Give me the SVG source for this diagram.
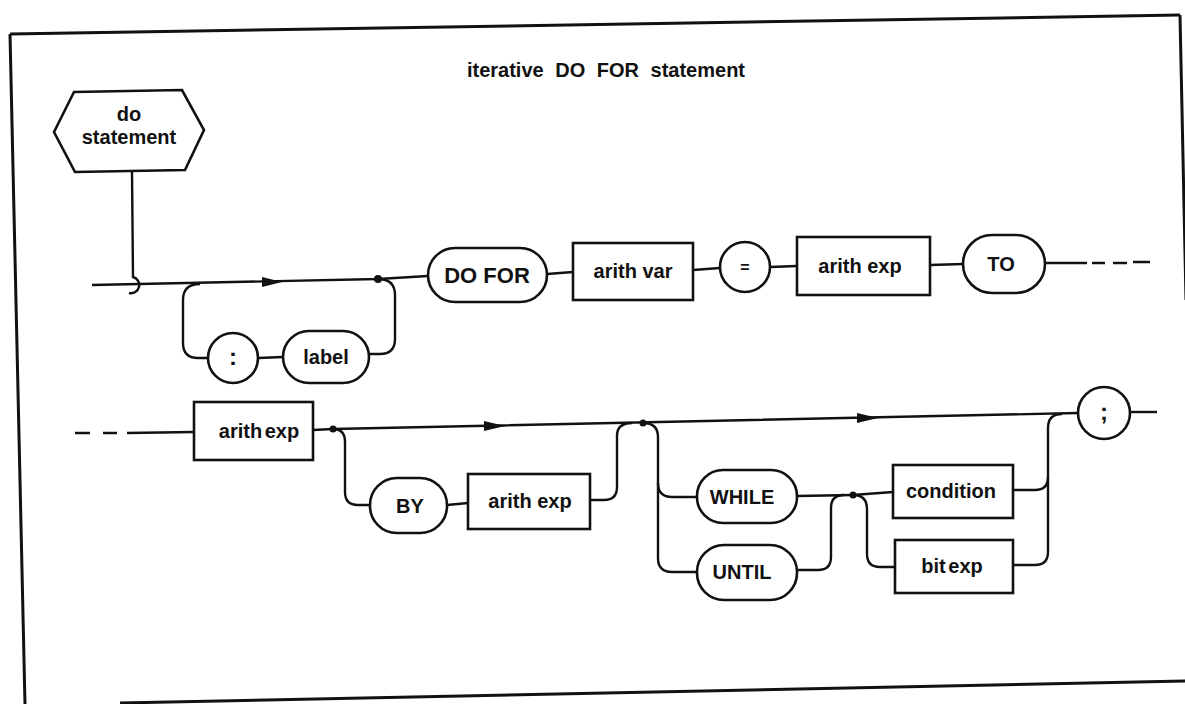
<svg xmlns="http://www.w3.org/2000/svg" width="1185" height="704" viewBox="0 0 1185 704">
<defs>
<style>
.bg{fill:#ffffff}
.frame{fill:none;stroke:#111;stroke-width:3}
.node{fill:#fff;stroke:#111;stroke-width:2.6}
.line{fill:none;stroke:#111;stroke-width:2.4}
.dash{fill:none;stroke:#111;stroke-width:2.4}
.dot{fill:#111}
.arrow{fill:#111}
text{font-family:"Liberation Sans",Arial,sans-serif;font-weight:bold;fill:#111;text-anchor:middle}
.lbl{font-size:20px}
.title{font-size:20px;word-spacing:6px}
</style>
</defs>
<rect class="bg" x="0" y="0" width="1185" height="704"/>
<g id="frame">
<path class="frame" d="M10,34 L1180,15"/>
<path class="frame" d="M10,34 L25,704"/>
<path class="frame" d="M1180,15 L1186,300"/>
<path class="frame" d="M120,703 L1185,681"/>
</g>
<text id="title" class="title" x="606" y="77">iterative DO FOR statement</text>
<g id="connectors">
<!-- row 1 -->
<path class="line" d="M132,172 L133,277 A8,8 0 0 1 129,293"/>
<path class="line" d="M92,285 L378,279 L428,276"/>
<polygon class="arrow" points="262,277 282,282 262,287"/>
<path class="line" d="M200,284 Q183,284 183,300 L183,343 Q183,358 198,358 L208,358"/>
<path class="line" d="M258,358 L283,357"/>
<path class="line" d="M369,354 L380,354 Q395,354 395,339 L395,295 Q395,279 378,279"/>
<path class="line" d="M547,274 L573,272"/>
<path class="line" d="M693,270 L720,268"/>
<path class="line" d="M770,267 L797,266"/>
<path class="line" d="M930,265 L963,264"/>
<path class="line" d="M1045,263 L1087,263"/>
<path class="dash" d="M1092,263 L1105,263 M1113,263 L1127,263 M1133,262 L1150,262"/>
<!-- row 2 -->
<path class="dash" d="M75,433 L90,433 M103,433 L117,433"/>
<path class="line" d="M127,433 L194,432"/>
<path class="line" d="M313,430 L333,429 L1078,413"/>
<polygon class="arrow" points="484,421 505,426 484,431"/>
<polygon class="arrow" points="857,413 878,418 857,423"/>
<path class="line" d="M333,429 Q345,429 345,442 L345,492 Q345,505 358,505 L370,505"/>
<path class="line" d="M447,505 L468,503"/>
<path class="line" d="M590,500 L604,500 Q617,500 617,487 L617,436 Q617,423 632,423"/>
<path class="line" d="M643,423 Q658,423 658,437 L658,558 Q658,572 672,572 L697,572"/>
<path class="line" d="M658,483 Q658,497 672,497 L697,497"/>
<path class="line" d="M797,496 L853,495"/>
<path class="line" d="M797,570 L818,570 Q831,570 831,557 L831,508 Q831,495 844,495"/>
<path class="line" d="M853,495 L893,492"/>
<path class="line" d="M853,495 Q867,495 867,509 L867,554 Q867,567 880,567 L895,567"/>
<path class="line" d="M1013,490 L1035,490 Q1048,490 1048,477"/>
<path class="line" d="M1013,565 L1035,565 Q1048,565 1048,552 L1048,428 Q1048,414 1062,414"/>
<path class="line" d="M1130,412 L1157,412"/>
<circle class="dot" cx="378" cy="279" r="4"/>
<circle class="dot" cx="333" cy="429" r="3.5"/>
<circle class="dot" cx="643" cy="423" r="3.5"/>
<circle class="dot" cx="853" cy="495" r="3.5"/>
</g>
<g id="do-statement">
<polygon class="node" points="54,132 74,92 182,90 204,130 185,170 75,172"/>
<text class="lbl" x="129" y="121">do</text>
<text class="lbl" x="129" y="144">statement</text>
</g>
<g id="colon">
<circle class="node" cx="233" cy="358" r="25"/>
<text x="233" y="365" style="font-size:24px">:</text>
</g>
<g id="label">
<rect class="node" x="283" y="331" width="86" height="52" rx="26"/>
<text class="lbl" x="326" y="364">label</text>
</g>
<g id="do-for">
<rect class="node" x="428" y="248" width="119" height="54" rx="27"/>
<text class="lbl" x="487" y="283" style="font-size:22px">DO FOR</text>
</g>
<g id="arith-var">
<rect class="node" x="573" y="243" width="120" height="57"/>
<text class="lbl" x="633" y="278">arith var</text>
</g>
<g id="equals">
<circle class="node" cx="745" cy="267" r="25"/>
<text x="745" y="273" style="font-size:16px">=</text>
</g>
<g id="arith-exp-1">
<rect class="node" x="797" y="237" width="133" height="58"/>
<text class="lbl" x="860" y="273">arith exp</text>
</g>
<g id="to">
<rect class="node" x="963" y="235" width="82" height="58" rx="29"/>
<text class="lbl" x="1001" y="271">TO</text>
</g>
<g id="arith-exp-2">
<rect class="node" x="194" y="402" width="119" height="58"/>
<text class="lbl" x="259" y="438" style="word-spacing:-3px">arith exp</text>
</g>
<g id="by">
<rect class="node" x="370" y="478" width="77" height="55" rx="27"/>
<text class="lbl" x="410" y="513">BY</text>
</g>
<g id="arith-exp-3">
<rect class="node" x="468" y="474" width="122" height="55"/>
<text class="lbl" x="530" y="508">arith exp</text>
</g>
<g id="while">
<rect class="node" x="697" y="470" width="100" height="53" rx="26"/>
<text class="lbl" x="742" y="504">WHILE</text>
</g>
<g id="until">
<rect class="node" x="697" y="545" width="100" height="55" rx="27"/>
<text class="lbl" x="742" y="579">UNTIL</text>
</g>
<g id="condition">
<rect class="node" x="893" y="465" width="120" height="53"/>
<text class="lbl" x="951" y="498">condition</text>
</g>
<g id="bit-exp">
<rect class="node" x="895" y="540" width="118" height="53"/>
<text class="lbl" x="952" y="573" style="word-spacing:-3px">bit exp</text>
</g>
<g id="semicolon">
<circle class="node" cx="1104" cy="413" r="26"/>
<text x="1104" y="420" style="font-size:24px">;</text>
</g>
</svg>
